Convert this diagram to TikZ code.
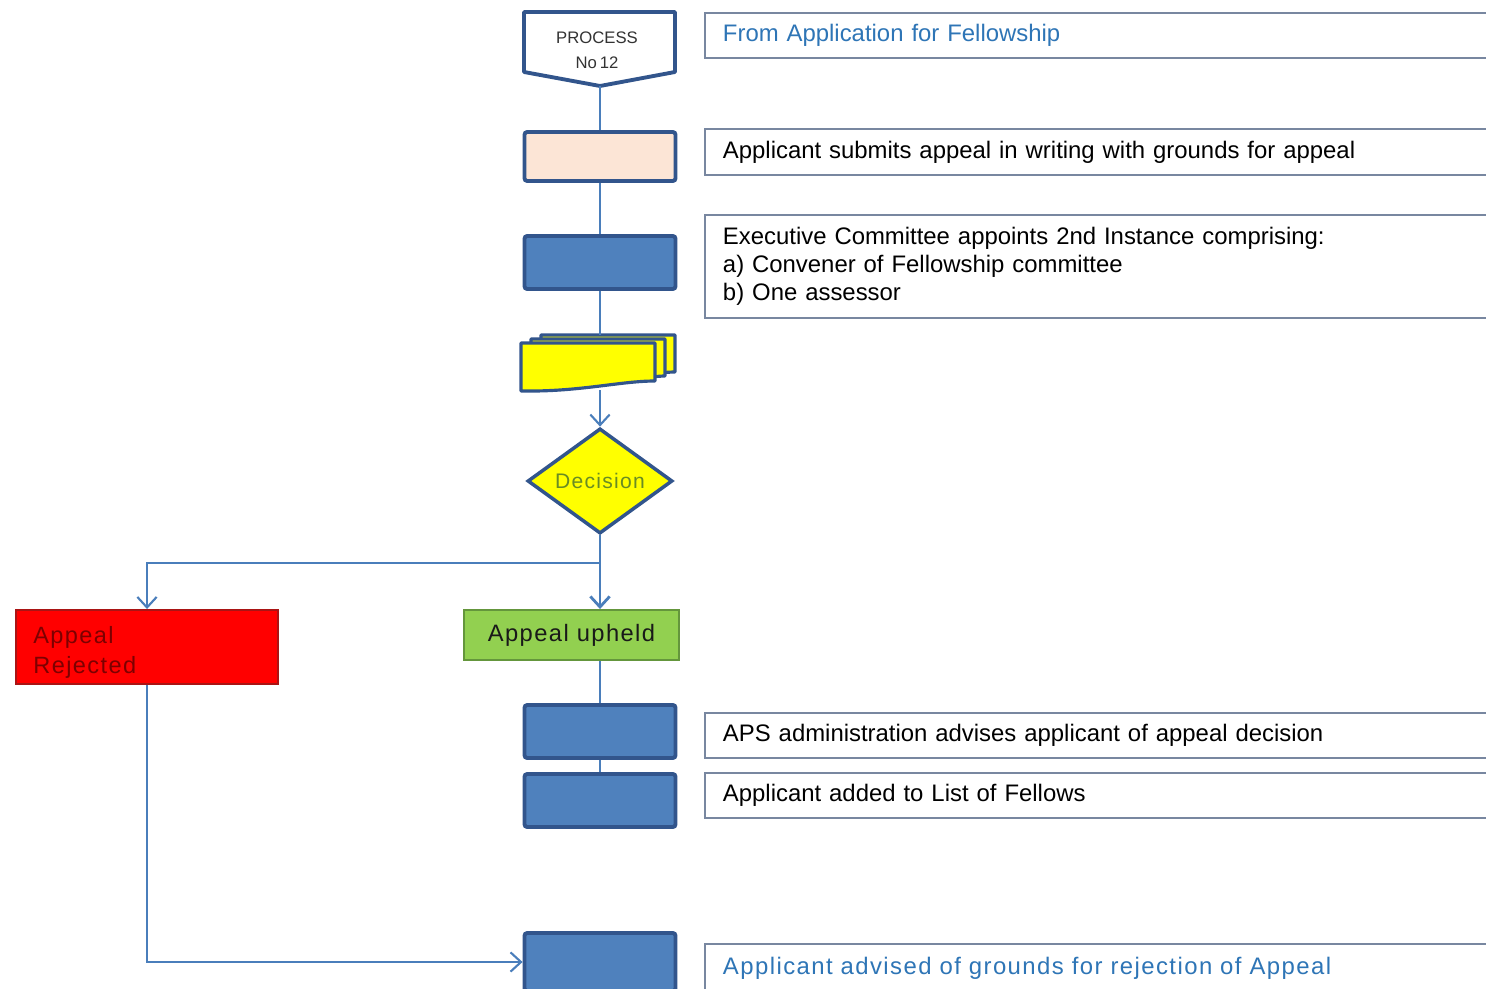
\documentclass[tikz,border=0pt]{standalone}
\usepackage{fontspec}
\setmainfont[WordSpace=0.6]{Liberation Sans}
\newfontfamily\spacedfont[LetterSpace=6]{Liberation Sans}
\usetikzlibrary{arrows.meta,shapes.geometric}
\definecolor{dkblue}{RGB}{50,85,140}
\definecolor{midblue}{RGB}{79,129,189}
\definecolor{peach}{RGB}{252,229,214}
\definecolor{connblue}{RGB}{74,126,187}
\definecolor{boxline}{RGB}{120,135,160}
\definecolor{txtblue}{RGB}{46,117,182}
\definecolor{rejred}{RGB}{255,0,0}
\definecolor{rejline}{RGB}{170,20,20}
\definecolor{rejtext}{RGB}{125,0,0}
\definecolor{upgreen}{RGB}{146,208,80}
\definecolor{upline}{RGB}{100,150,60}
\definecolor{decolive}{RGB}{105,140,35}
\definecolor{docyellow}{RGB}{255,255,0}
\begin{document}
\begin{tikzpicture}[x=0.02cm,y=-0.02cm,
  bluebox/.style={draw=dkblue, line width=2.2pt, fill=midblue, rounded corners=1.5pt,
    minimum width=3.02cm, minimum height=1.06cm, inner sep=0pt},
  tbox/.style={draw=boxline, line width=1.1pt, fill=white, anchor=north west,
    minimum width=15.92cm, text width=15.2cm, inner xsep=0.36cm, inner ysep=0pt,
    align=left, font=\fontsize{13.6pt}{16pt}\selectfont},
  sheet/.style={draw=dkblue, line width=1.8pt, fill=docyellow, line join=round},
  conn/.style={draw=connblue, line width=1.2pt},
  conna/.style={conn, -{Straight Barb[length=6pt,width=11pt]}}
]
\useasboundingbox (0,0) rectangle (1486,989);
\clip (0,0) rectangle (1486,989);

% process off-page shape
\draw[draw=dkblue, line width=2.2pt, fill=white, line join=round]
  (524,12) -- (675,12) -- (675,72) -- (600,86) -- (524,72) -- cycle;
\node[font=\fontsize{9.5pt}{14.5pt}\selectfont, text=black!80, align=center] (proc) at (597,50) {PROCESS\\No 12};
\coordinate (procb) at (600,86);

% boxes in the main column
\node[bluebox, fill=peach, minimum height=0.98cm] (r2) at (600,156.5) {};
\node[bluebox] (r3) at (600,262.5) {};

% multi-document shape
\draw[sheet] (541,335) -- (675,335) -- (675,372) .. controls (660,372) and (620,378) .. (541,378) -- cycle;
\draw[sheet] (531,339) -- (665,339) -- (665,376) .. controls (650,376) and (610,384) .. (531,384) -- cycle;
\draw[sheet] (521,343) -- (655,343) -- (655,381) .. controls (620,381) and (580,392) .. (521,391) -- cycle;
\node[inner sep=0pt, minimum width=3.1cm, minimum height=1.1cm] (doc) at (600,362.5) {};

% decision
\node[diamond, draw=dkblue, line width=2pt, fill=docyellow, minimum width=2.9cm, minimum height=2.06cm,
  inner sep=0pt, text=decolive, font=\spacedfont\fontsize{12pt}{14pt}\selectfont] (dec) at (600,481) {Decision};

% outcomes
\node[draw=rejline, line width=1.1pt, fill=rejred, minimum width=5.24cm, minimum height=1.48cm,
  inner sep=0pt] (rej) at (147,647) {};
\node[anchor=north west, inner sep=0pt, align=left, text=rejtext,
  font=\spacedfont\fontsize{13.4pt}{17pt}\selectfont] (rejtxt) at (33,626) {Appeal\\Rejected};
\node[draw=upline, line width=1.1pt, fill=upgreen, minimum width=4.3cm, minimum height=1.0cm,
  inner sep=0pt, text=black!90, font=\spacedfont\fontsize{13.5pt}{16pt}\selectfont] (up) at (571.5,635) {Appeal upheld};

\node[bluebox] (r4) at (600,731.5) {};
\node[bluebox] (r5) at (600,800.5) {};
\node[bluebox, minimum height=1.16cm] (r6) at (600,962) {};

% text boxes
\node[tbox, minimum height=0.9cm, text=txtblue] (t1) at (704,12) {From Application for Fellowship};
\node[tbox, minimum height=0.92cm] (t2) at (704,128) {Applicant submits appeal in writing with grounds for appeal};
\node[tbox, minimum height=2.06cm] (t3) at (704,214)
  {Executive Committee appoints 2nd Instance comprising:\\a) Convener of Fellowship committee\\b) One assessor};
\node[tbox, minimum height=0.9cm] (t4) at (704,712) {APS administration advises applicant of appeal decision};
\node[tbox, minimum height=0.9cm] (t5) at (704,772) {Applicant added to List of Fellows};
\node[tbox, minimum height=0.96cm, text=txtblue, font=\spacedfont\fontsize{13.6pt}{16pt}\selectfont] (t6) at (704,943)
  {Applicant advised of grounds for rejection of Appeal};

% connectors
\coordinate (br) at (600,563);
\draw[conn] (procb) -- (r2.north);
\draw[conn] (r2.south) -- (r3.north);
\draw[conn] (r3.south) -- (doc.north);
\draw[conna] (doc.south) -- (dec.north);
\draw[conn, line width=1.6pt] (dec.south) -- (br);
\draw[conna, line width=1.6pt] (br) -- (br |- up.north);
\draw[conna] (br) -| (rej.north);
\draw[conn] (r4.north |- up.south) -- (r4.north);
\draw[conn] (r4.south) -- (r5.north);
\draw[conna] (rej.south) |- (r6.west);
\end{tikzpicture}
\end{document}
